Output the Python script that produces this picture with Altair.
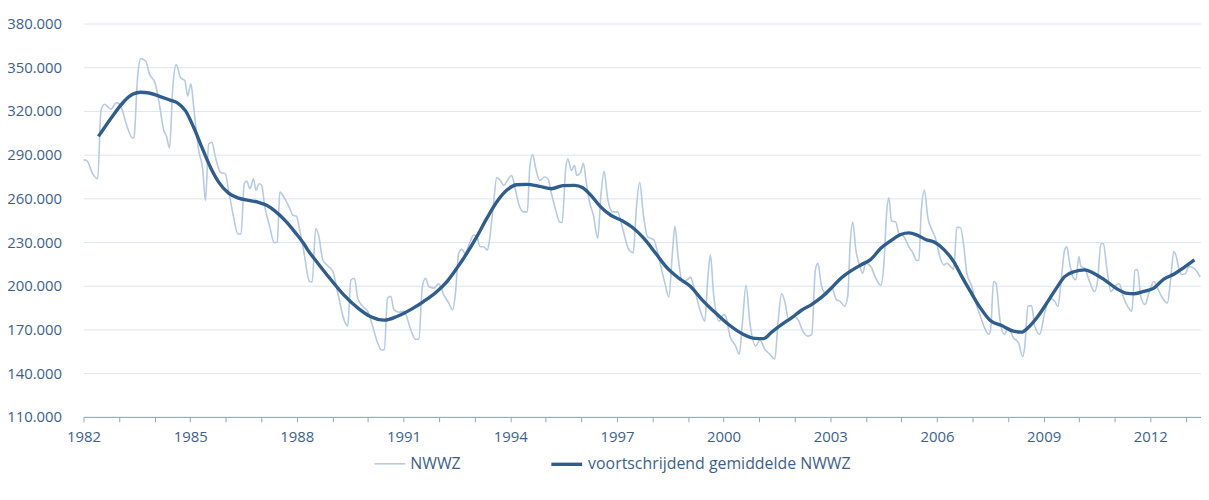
import altair as alt
import pandas as pd

# NWWZ (thin line): decimal year, value
nwwz_year = [
    1982.00, 1982.09, 1982.26, 1982.40, 1982.49, 1982.59, 1982.77, 1982.93, 1983.05, 1983.19,
    1983.38, 1983.42, 1983.52, 1983.61, 1983.75, 1983.86, 1984.01, 1984.12, 1984.26, 1984.33,
    1984.42, 1984.51, 1984.61, 1984.73, 1984.85, 1984.93, 1985.02, 1985.10, 1985.24, 1985.35,
    1985.43, 1985.52, 1985.61, 1985.71, 1985.85, 1985.99, 1986.08, 1986.22, 1986.34, 1986.43,
    1986.52, 1986.59, 1986.68, 1986.78, 1986.85, 1986.94, 1987.01, 1987.10, 1987.24, 1987.36,
    1987.45, 1987.52, 1987.66, 1987.80, 1987.89, 1987.99, 1988.08, 1988.22, 1988.31, 1988.36,
    1988.43, 1988.53, 1988.61, 1988.73, 1988.87, 1989.01, 1989.15, 1989.34, 1989.43, 1989.52,
    1989.62, 1989.71, 1989.85, 1989.99, 1990.13, 1990.27, 1990.38, 1990.46, 1990.55, 1990.64,
    1990.73, 1990.87, 1991.01, 1991.20, 1991.34, 1991.43, 1991.53, 1991.62, 1991.71, 1991.85,
    1991.99, 1992.13, 1992.27, 1992.38, 1992.46, 1992.55, 1992.64, 1992.73, 1992.87, 1992.97,
    1993.06, 1993.15, 1993.25, 1993.36, 1993.43, 1993.53, 1993.62, 1993.71, 1993.82, 1993.92,
    1994.04, 1994.13, 1994.25, 1994.37, 1994.48, 1994.55, 1994.63, 1994.72, 1994.83, 1994.97,
    1995.06, 1995.16, 1995.28, 1995.39, 1995.46, 1995.56, 1995.62, 1995.72, 1995.81, 1995.87,
    1995.97, 1996.06, 1996.13, 1996.23, 1996.34, 1996.46, 1996.55, 1996.64, 1996.74, 1996.88,
    1997.02, 1997.16, 1997.34, 1997.46, 1997.55, 1997.64, 1997.74, 1997.86, 1997.95, 1998.04,
    1998.18, 1998.35, 1998.46, 1998.56, 1998.63, 1998.72, 1998.84, 1998.98, 1999.07, 1999.16,
    1999.35, 1999.47, 1999.56, 1999.63, 1999.72, 1999.88, 2000.00, 2000.06, 2000.18, 2000.34,
    2000.44, 2000.53, 2000.63, 2000.74, 2000.90, 2001.02, 2001.16, 2001.30, 2001.44, 2001.53,
    2001.63, 2001.72, 2001.83, 2001.95, 2002.09, 2002.23, 2002.37, 2002.48, 2002.58, 2002.65,
    2002.75, 2002.89, 2003.03, 2003.17, 2003.28, 2003.40, 2003.49, 2003.56, 2003.63, 2003.72,
    2003.82, 2003.91, 2004.00, 2004.14, 2004.28, 2004.42, 2004.51, 2004.59, 2004.65, 2004.72,
    2004.84, 2004.93, 2005.07, 2005.21, 2005.33, 2005.43, 2005.49, 2005.56, 2005.65, 2005.74,
    2005.86, 2005.96, 2006.08, 2006.19, 2006.28, 2006.38, 2006.47, 2006.56, 2006.66, 2006.75,
    2006.84, 2006.98, 2007.08, 2007.22, 2007.36, 2007.45, 2007.51, 2007.59, 2007.66, 2007.77,
    2007.89, 2008.01, 2008.15, 2008.29, 2008.41, 2008.47, 2008.56, 2008.66, 2008.75, 2008.89,
    2009.03, 2009.17, 2009.31, 2009.40, 2009.49, 2009.59, 2009.65, 2009.73, 2009.84, 2009.91,
    2009.99, 2010.05, 2010.15, 2010.29, 2010.43, 2010.52, 2010.61, 2010.68, 2010.77, 2010.89,
    2011.03, 2011.13, 2011.22, 2011.36, 2011.48, 2011.57, 2011.64, 2011.73, 2011.85, 2011.96,
    2012.10, 2012.20, 2012.34, 2012.48, 2012.57, 2012.66, 2012.73, 2012.80, 2012.89, 2012.99,
    2013.08, 2013.22, 2013.31, 2013.40,
]
nwwz_value = [
    286400, 286000, 276800, 273400, 320000, 324600, 321200, 325700, 323400, 312000,
    301400, 302000, 342700, 355900, 354100, 345000, 339300, 326800, 306400, 303000,
    294600, 335900, 351800, 342700, 340900, 330200, 338600, 322300, 292700, 280300,
    258600, 297300, 298400, 288200, 277900, 276800, 265500, 247300, 235500, 235500,
    270000, 271800, 266600, 273400, 265500, 270000, 268900, 254000, 240400, 229500,
    230000, 264300, 259800, 253000, 248400, 247700, 238200, 220000, 206300, 202900,
    202500, 239300, 234800, 217700, 213600, 209800, 195000, 175700, 172300, 204100,
    205200, 191600, 185900, 182500, 172300, 160900, 155900, 156300, 191600, 192700,
    183600, 181800, 182500, 170000, 163200, 163500, 199500, 205200, 199500, 198400,
    201400, 193900, 188200, 183600, 195000, 222300, 225000, 222300, 230200, 234800,
    233700, 226800, 226800, 224500, 233700, 256400, 274100, 272700, 268900, 272300,
    275700, 267700, 255200, 250700, 250700, 281300, 290000, 280300, 272300, 274600,
    273400, 263200, 251800, 243800, 243400, 280300, 287100, 279100, 282500, 275700,
    277300, 284100, 272300, 257500, 248400, 232500, 262000, 278600, 259800, 250700,
    250700, 239300, 224500, 222700, 254000, 271100, 249600, 233700, 232500, 231400,
    218900, 201800, 192300, 222300, 240900, 220000, 202900, 204100, 205900, 199500,
    182500, 175700, 206300, 221100, 193900, 175700, 180200, 179100, 165400, 158600,
    153000, 174600, 200300, 174600, 158600, 162700, 156400, 153000, 149600, 174600,
    194500, 189300, 176800, 179100, 176800, 168800, 165400, 166600, 210900, 215500,
    200300, 193900, 199500, 190500, 189300, 185900, 192700, 228900, 243800, 224500,
    214300, 208700, 215500, 213200, 205200, 200300, 215500, 251800, 260400, 244500,
    243800, 235800, 233700, 226800, 222300, 217300, 217500, 251800, 265500, 247300,
    238200, 232500, 220000, 214300, 215500, 213200, 211400, 240200, 240000, 228000,
    208700, 199500, 189300, 179100, 170000, 166600, 170000, 202900, 201800, 176800,
    166600, 171100, 164300, 160900, 151400, 158600, 185900, 186400, 172300, 166600,
    181400, 191600, 189300, 185900, 202900, 224500, 226800, 215500, 205200, 204100,
    220000, 213200, 212100, 202900, 196100, 204100, 229000, 229000, 213200, 196100,
    200300, 201400, 193900, 185900, 182500, 210900, 211200, 192700, 187100, 195000,
    202900, 198400, 191600, 188200, 204100, 223400, 220000, 212100, 207600, 208300,
    213200, 212100, 209800, 205900,
]

# voortschrijdend gemiddelde NWWZ (thick line)
ma_year = [
    1982.42, 1982.82, 1983.15, 1983.38, 1983.61, 1983.84, 1984.12, 1984.45, 1984.63, 1984.87,
    1985.10, 1985.33, 1985.57, 1985.80, 1986.08, 1986.36, 1986.64, 1986.92, 1987.15, 1987.38,
    1987.66, 1987.94, 1988.22, 1988.31, 1988.59, 1988.96, 1989.34, 1989.71, 1990.08, 1990.46,
    1990.83, 1991.20, 1991.57, 1991.94, 1992.22, 1992.50, 1992.78, 1993.06, 1993.34, 1993.62,
    1993.90, 1994.18, 1994.46, 1994.83, 1995.16, 1995.48, 1995.81, 1996.04, 1996.27, 1996.55,
    1996.83, 1997.16, 1997.44, 1997.76, 1998.09, 1998.42, 1998.74, 1999.07, 1999.39, 1999.77,
    2000.14, 2000.56, 2000.88, 2001.12, 2001.35, 2001.63, 2001.91, 2002.19, 2002.47, 2002.75,
    2003.03, 2003.30, 2003.58, 2003.86, 2004.14, 2004.42, 2004.70, 2004.98, 2005.21, 2005.44,
    2005.68, 2005.96, 2006.19, 2006.47, 2006.70, 2006.94, 2007.22, 2007.49, 2007.82, 2008.15,
    2008.38, 2008.56, 2008.84, 2009.12, 2009.36, 2009.59, 2009.87, 2010.15, 2010.43, 2010.71,
    2011.03, 2011.31, 2011.55, 2011.82, 2012.10, 2012.38, 2012.66, 2012.94, 2013.24,
]
ma_value = [
    302500, 316600, 326800, 331400, 332800, 332300, 330200, 327300, 325700, 320000,
    308600, 295000, 281300, 271100, 263600, 260200, 258600, 257300, 255200, 251400,
    245000, 237000, 228000, 224500, 215500, 204100, 193200, 184800, 178700, 176400,
    179100, 183600, 189300, 196100, 202900, 212100, 222300, 233700, 246200, 257500,
    265500, 269300, 269600, 268200, 266600, 268700, 268900, 267300, 262000, 254000,
    248400, 244500, 240000, 232500, 222300, 212100, 205200, 199500, 190500, 181400,
    173400, 166600, 163900, 163700, 168200, 173400, 178000, 183200, 187100, 192000,
    198400, 205200, 210200, 214300, 218100, 225700, 230900, 235200, 236300, 234800,
    231800, 229500, 225000, 216600, 206300, 196100, 184800, 176400, 172700, 168800,
    168200, 171200, 179100, 189300, 198400, 206300, 209800, 210900, 208300, 204100,
    198400, 195000, 194500, 196100, 198400, 204600, 207900, 212400, 217700,
]

x_ticks = list(range(1982, 2014))
y_ticks = list(range(110000, 380001, 30000))

S1 = "NWWZ"
S2 = "voortschrijdend gemiddelde NWWZ"

df = pd.DataFrame({
    "jaar": nwwz_year + ma_year,
    "waarde": nwwz_value + ma_value,
    "reeks": [S1] * len(nwwz_year) + [S2] * len(ma_year),
})

TXT = "#3D5F8E"
FONT = "Open Sans"

legend = alt.Legend(
    title=None, orient="none", legendX=292, legendY=426, direction="horizontal",
    symbolType="stroke", symbolSize=961, labelFontSize=16, labelFont=FONT,
    labelColor=TXT, columnPadding=84, padding=0, labelOffset=4, labelLimit=0,
)

chart = alt.Chart(df).mark_line(interpolate="monotone", clip=True).encode(
    x=alt.X(
        "jaar:Q",
        scale=alt.Scale(domain=[1982, 2013.425], nice=False, zero=False),
        axis=alt.Axis(
            values=x_ticks, title=None, grid=False,
            labelExpr="(datum.value - 1982) % 3 == 0 ? '' + datum.value : ''",
            domainColor="#8DA3BF", tickColor="#8DA3BF", tickSize=5, labelPadding=8,
            labelFlush=False, labelOverlap=False,
        ),
    ),
    y=alt.Y(
        "waarde:Q",
        scale=alt.Scale(domain=[110000, 380000], nice=False, zero=False),
        axis=alt.Axis(
            values=y_ticks, title=None, domain=False, ticks=False,
            gridColor="#DDE5F0", gridWidth=1, labelPadding=22,
            labelExpr="replace(format(datum.value, ','), ',', '.')",
        ),
    ),
    color=alt.Color(
        "reeks:N",
        scale=alt.Scale(domain=[S1, S2], range=["#B6CAE3", "#305D90"]),
        legend=legend,
    ),
    strokeWidth=alt.StrokeWidth(
        "reeks:N",
        scale=alt.Scale(domain=[S1, S2], range=[1.6, 3.4]),
        legend=legend,
    ),
).properties(
    width=1125, height=396,
    autosize=alt.AutoSizeParams(type="none"),
    padding={"left": 76, "top": 14, "right": 0, "bottom": 74},
).configure_axis(
    labelFont=FONT, labelFontSize=15, labelColor=TXT,
).configure_view(stroke=None)

chart.save("out.html", embed_options={"renderer": "svg", "actions": False})
